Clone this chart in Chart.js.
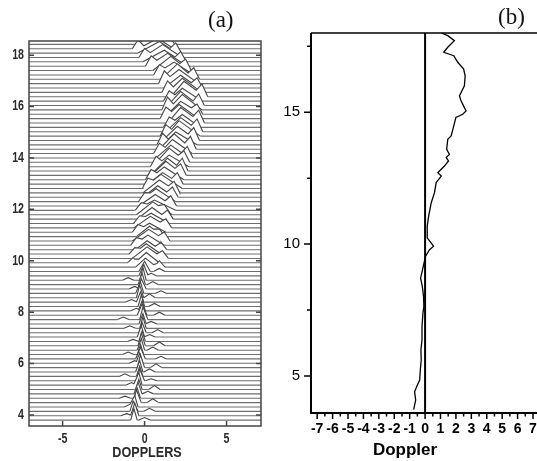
<!DOCTYPE html>
<html>
<head>
<meta charset="utf-8">
<script src="https://cdn.jsdelivr.net/npm/chart.js@4.4.1/dist/chart.umd.min.js"></script>
<style>
  html, body { margin: 0; padding: 0; background: #fff; overflow: hidden; }
  body { width: 537px; height: 461px; position: relative; }
  #boxA { position: absolute; left: 0; top: 0; width: 270px; height: 461px; }
  #boxB { position: absolute; left: 262px; top: 0; width: 283px; height: 461px; }
  .tag { position: absolute; font-family: "Liberation Serif", serif; font-size: 23px; color: #111; }
</style>
</head>
<body>
<div id="boxA"><canvas id="chartA"></canvas></div>
<div id="boxB"><canvas id="chartB"></canvas></div>
<div class="tag" style="left:208px; top:7px;">(a)</div>
<div class="tag" style="left:498px; top:4px;">(b)</div>
<script>
// (a) stacked spectra: one trace per range gate (km)
const gateHeight = [3.80, 3.97, 4.14, 4.31, 4.48, 4.65, 4.82, 4.99, 5.16, 5.33,
  5.50, 5.67, 5.84, 6.01, 6.18, 6.35, 6.52, 6.69, 6.86, 7.03,
  7.20, 7.37, 7.54, 7.71, 7.88, 8.05, 8.22, 8.39, 8.56, 8.73,
  8.90, 9.07, 9.24, 9.41, 9.58, 9.75, 9.92, 10.09, 10.26, 10.43,
  10.60, 10.77, 10.94, 11.11, 11.28, 11.45, 11.62, 11.79, 11.96, 12.13,
  12.30, 12.47, 12.64, 12.81, 12.98, 13.15, 13.32, 13.49, 13.66, 13.83,
  14.00, 14.17, 14.34, 14.51, 14.68, 14.85, 15.02, 15.19, 15.36, 15.53,
  15.70, 15.87, 16.04, 16.21, 16.38, 16.55, 16.72, 16.89, 17.06, 17.23,
  17.40, 17.57, 17.74, 17.91, 18.08, 18.25, 18.42];
// main spectral peak: doppler, height above baseline (km of stack), width left / right
const peakDoppler = [-0.65, -0.6, -0.7, -0.6, -0.5, -0.45, -0.4, -0.35, -0.35, -0.3,
  -0.3, -0.3, -0.25, -0.3, -0.25, -0.25, -0.2, -0.2, -0.15, -0.2,
  -0.15, -0.1, -0.1, -0.1, -0.15, -0.15, -0.2, -0.25, -0.3, -0.25,
  -0.2, -0.15, -0.1, -0.05, 0.0, 0.05, 0.1, 0.15, 0.1, 0.15,
  0.2, 0.25, 0.3, 0.3, 0.35, 0.4, 0.45, 0.5, 0.6, 0.65,
  0.7, 0.8, 0.9, 1.0, 1.1, 1.2, 1.3, 1.4, 1.5, 1.5,
  1.6, 1.7, 1.8, 1.9, 2.0, 2.1, 2.2, 2.3, 2.2, 2.1,
  2.2, 2.3, 2.2, 2.3, 2.4, 2.3, 2.2, 2.1, 2.0, 1.8,
  1.6, 1.4, 1.2, 1.1, 0.9, 0.8, 0.6];
const peakAmp = [0.45, 0.5, 0.4, 0.45, 0.5, 0.4, 0.45, 0.4, 0.5, 0.45,
  0.4, 0.45, 0.5, 0.4, 0.45, 0.4, 0.45, 0.5, 0.4, 0.45,
  0.4, 0.45, 0.4, 0.5, 0.45, 0.4, 0.45, 0.4, 0.5, 0.45,
  0.4, 0.45, 0.5, 0.45, 0.4, 0.35, 0.4, 0.45, 0.4, 0.35,
  0.4, 0.45, 0.4, 0.35, 0.45, 0.4, 0.45, 0.5, 0.4, 0.45,
  0.5, 0.45, 0.5, 0.55, 0.45, 0.5, 0.55, 0.5, 0.45, 0.55,
  0.5, 0.55, 0.6, 0.5, 0.55, 0.6, 0.55, 0.5, 0.6, 0.55,
  0.5, 0.6, 0.55, 0.5, 0.6, 0.55, 0.5, 0.55, 0.6, 0.5,
  0.55, 0.5, 0.45, 0.5, 0.45, 0.4, 0.45];
const spreadLeft = [0.2, 0.25, 0.2, 0.3, 0.2, 0.2, 0.25, 0.2, 0.3, 0.2,
  0.2, 0.25, 0.2, 0.2, 0.3, 0.2, 0.25, 0.2, 0.2, 0.25,
  0.2, 0.2, 0.25, 0.2, 0.3, 0.2, 0.2, 0.25, 0.2, 0.3,
  0.2, 0.25, 0.2, 0.3, 0.35, 0.6, 0.7, 0.9, 0.8, 0.7,
  0.9, 1.0, 0.8, 0.9, 1.0, 1.1, 0.9, 1.0, 1.2, 1.0,
  1.1, 0.9, 1.0, 1.1, 0.9, 1.0, 0.9, 0.8, 0.9, 0.8,
  0.9, 0.8, 0.9, 0.8, 0.9, 0.8, 0.9, 1.0, 0.8, 0.9,
  0.8, 0.9, 0.8, 0.9, 0.8, 0.9, 1.0, 1.1, 1.0, 1.2,
  1.1, 1.2, 1.3, 1.2, 1.3, 1.2, 1.1];
const spreadRight = [0.2, 0.25, 0.3, 0.2, 0.3, 0.2, 0.25, 0.2, 0.2, 0.3,
  0.2, 0.2, 0.25, 0.2, 0.3, 0.2, 0.2, 0.25, 0.2, 0.2,
  0.25, 0.2, 0.2, 0.3, 0.3, 0.2, 0.2, 0.2, 0.25, 0.2,
  0.3, 0.2, 0.2, 0.25, 0.35, 0.7, 0.8, 1.0, 0.9, 0.8,
  1.0, 1.1, 0.9, 1.0, 1.2, 1.1, 1.0, 1.2, 1.3, 1.1,
  1.2, 1.0, 1.2, 1.3, 1.1, 1.2, 1.1, 1.0, 1.2, 1.1,
  1.1, 1.2, 1.1, 1.3, 1.2, 1.3, 1.2, 1.1, 1.3, 1.2,
  1.3, 1.2, 1.1, 1.2, 1.3, 1.2, 1.1, 1.2, 1.1, 1.2,
  1.1, 1.2, 1.1, 1.2, 1.1, 1.0, 1.1];
// secondary bump of each spectrum: doppler and height
const sideDoppler = [0.0, -1.1, 0.3, -0.9, 0.5, -1.2, 0.2, 0.6, -0.8, 0.4,
  -1.2, 0.3, 0.7, -0.6, 1.0, -1.0, 0.5, 0.9, -0.7, 0.3,
  0.8, -0.9, 0.4, -1.3, 0.9, -0.5, 0.6, -0.8, 0.3, 1.0,
  -0.6, 0.5, -1.0, 0.4, 0.9, 0.9, -0.7, 1.1, -0.6, 1.0,
  -0.5, 1.2, 0.9, -0.4, 1.3, -0.3, 1.4, 1.2, -0.2, 1.6,
  0.0, 1.7, 1.8, 0.2, 2.0, 0.4, 2.2, 2.3, 0.7, 2.4,
  2.6, 0.9, 2.8, 1.1, 3.0, 1.3, 3.2, 1.5, 3.3, 1.3,
  3.2, 1.4, 3.3, 1.5, 3.5, 1.4, 3.2, 1.2, 3.0, 0.9,
  2.5, 0.4, 2.2, 0.0, 1.9, -0.4, 1.5];
const sideAmp = [0.1, 0.08, 0.12, 0.1, 0.15, 0.08, 0.1, 0.15, 0.1, 0.08,
  0.1, 0.12, 0.15, 0.1, 0.1, 0.1, 0.12, 0.15, 0.08, 0.1,
  0.12, 0.1, 0.1, 0.1, 0.12, 0.1, 0.12, 0.1, 0.15, 0.1,
  0.1, 0.12, 0.1, 0.1, 0.12, 0.25, 0.2, 0.3, 0.25, 0.3,
  0.3, 0.35, 0.3, 0.3, 0.35, 0.3, 0.35, 0.4, 0.3, 0.4,
  0.35, 0.4, 0.45, 0.4, 0.45, 0.4, 0.45, 0.5, 0.4, 0.45,
  0.45, 0.4, 0.5, 0.45, 0.5, 0.45, 0.5, 0.4, 0.5, 0.45,
  0.4, 0.5, 0.45, 0.4, 0.5, 0.45, 0.4, 0.5, 0.45, 0.4,
  0.45, 0.4, 0.4, 0.35, 0.4, 0.35, 0.3];
const xTicksA = [-5, 0, 5];
const yTicksA = [4, 6, 8, 10, 12, 14, 16, 18];

// (b) mean doppler profile
const profileHeight = [18.0, 17.9, 17.71, 17.46, 17.27, 17.14, 16.89, 16.63, 16.38, 16.0,
  15.62, 15.43, 15.05, 14.92, 14.8, 14.48, 14.1, 13.97, 13.59, 13.4,
  13.28, 13.15, 12.96, 12.71, 12.58, 12.33, 11.95, 11.57, 11.06, 10.68,
  10.24, 9.92, 9.79, 9.54, 9.1, 8.71, 8.4, 8.02, 7.63, 7.38,
  6.87, 6.37, 5.99, 5.61, 5.23, 4.85, 4.57, 4.4, 4.09, 3.73];
const profileDoppler = [1.05, 1.47, 1.9, 1.47, 1.21, 1.86, 2.12, 2.5, 2.6, 2.55,
  2.23, 2.33, 2.66, 2.44, 2.0, 1.86, 1.69, 1.47, 1.4, 1.58,
  1.37, 1.52, 1.26, 0.83, 1.05, 0.72, 0.61, 0.4, 0.23, 0.14,
  0.14, 0.55, 0.29, 0.03, -0.14, -0.29, -0.18, -0.1, -0.08, -0.14,
  -0.2, -0.2, -0.27, -0.25, -0.31, -0.35, -0.57, -0.68, -0.61, -0.74];
const xTicksB = [-7, -6, -5, -4, -3, -2, -1, 0, 1, 2, 3, 4, 5, 6, 7];
const yTicksB = [5, 7.5, 10, 12.5, 15, 17.5];

const xMinA = -7.05, xMaxA = 7.1, yMinA = 3.57, yMaxA = 18.55;
const xMinB = -7.4, xMaxB = 7.4, yMinB = 3.6, yMaxB = 18;
const sideHalfWidth = 0.35;

const arial = 'Liberation Sans, Arial, sans-serif';

function tri(x, l, p, r, a) {
  if (x <= l || x >= r) return 0;
  return x < p ? a * (x - l) / (p - l) : a * (r - x) / (r - p);
}

// each trace: flat baseline with its spectrum, filled white so it hides the traces above
const datasetsA = gateHeight.map((h, i) => {
  const p = peakDoppler[i], s = sideDoppler[i];
  const l1 = p - spreadLeft[i], r1 = p + spreadRight[i];
  const l2 = s - sideHalfWidth, r2 = s + sideHalfWidth;
  const xs = [l1, p, r1, l2, s, r2].sort((a, b) => a - b);
  const pts = [{ x: xMinA, y: h }];
  xs.forEach(x => {
    pts.push({ x, y: h + Math.max(tri(x, l1, p, r1, peakAmp[i]), tri(x, l2, s, r2, sideAmp[i])) });
  });
  pts.push({ x: xMaxA, y: h });
  return {
    data: pts,
    borderColor: '#6e6e6e',
    segment: {
      borderColor: c => (c.p0.parsed.y === h && c.p1.parsed.y === h) ? '#6e6e6e' : '#454545'
    },
    borderWidth: 1.1,
    pointRadius: 0,
    tension: 0,
    fill: { value: h },
    backgroundColor: '#ffffff'
  };
});

function narrowText(ctx, text, x, y, scaleX, align) {
  ctx.save();
  ctx.translate(x, y);
  ctx.scale(scaleX, 1);
  ctx.textAlign = align;
  ctx.textBaseline = 'middle';
  ctx.fillText(text, 0, 0);
  ctx.restore();
}

const frameA = {
  id: 'frameA',
  afterDraw(chart) {
    const { ctx, chartArea: a, scales: { x, y } } = chart;
    ctx.save();
    ctx.strokeStyle = '#444';
    ctx.lineWidth = 1.5;
    ctx.strokeRect(a.left, a.top, a.right - a.left, a.bottom - a.top);
    ctx.beginPath();
    yTicksA.forEach(v => {
      const py = y.getPixelForValue(v);
      ctx.moveTo(a.left, py); ctx.lineTo(a.left + 5, py);
      ctx.moveTo(a.right - 5, py); ctx.lineTo(a.right, py);
    });
    xTicksA.forEach(v => {
      const px = x.getPixelForValue(v);
      ctx.moveTo(px, a.bottom); ctx.lineTo(px, a.bottom - 5);
    });
    ctx.stroke();
    // condensed bold labels
    ctx.fillStyle = '#2a2a2a';
    ctx.font = 'bold 14px ' + arial;
    yTicksA.forEach(v => narrowText(ctx, String(v), a.left - 5, y.getPixelForValue(v), 0.76, 'right'));
    xTicksA.forEach(v => narrowText(ctx, String(v), x.getPixelForValue(v), a.bottom + 13, 0.76, 'center'));
    ctx.font = 'bold 15px ' + arial;
    narrowText(ctx, 'DOPPLERS', (a.left + a.right) / 2 + 2, a.bottom + 27, 0.84, 'center');
    ctx.restore();
  }
};

new Chart(document.getElementById('chartA'), {
  type: 'line',
  data: { datasets: datasetsA },
  options: {
    responsive: true,
    maintainAspectRatio: false,
    animation: false,
    layout: { padding: { top: 41, right: 9, left: 0, bottom: 0 } },
    plugins: { legend: { display: false }, tooltip: { enabled: false } },
    scales: {
      x: {
        type: 'linear', min: xMinA, max: xMaxA,
        grid: { display: false, drawTicks: false }, border: { display: false },
        afterBuildTicks: s => { s.ticks = xTicksA.map(v => ({ value: v })); },
        afterFit: s => { s.height = 35; },
        ticks: { display: false }
      },
      y: {
        type: 'linear', min: yMinA, max: yMaxA,
        grid: { display: false, drawTicks: false }, border: { display: false },
        afterBuildTicks: s => { s.ticks = yTicksA.map(v => ({ value: v })); },
        afterFit: s => { s.width = 29; },
        ticks: { display: false }
      }
    }
  },
  plugins: [frameA]
});

const frameB = {
  id: 'frameB',
  afterDraw(chart) {
    const { ctx, chartArea: a, scales: { x, y } } = chart;
    ctx.save();
    ctx.strokeStyle = '#000';
    ctx.lineWidth = 1.5;
    ctx.beginPath();
    ctx.moveTo(a.left, a.top); ctx.lineTo(a.right, a.top);
    ctx.stroke();
    ctx.lineWidth = 2;
    ctx.beginPath();
    ctx.moveTo(a.left, a.top); ctx.lineTo(a.left, a.bottom); ctx.lineTo(a.right, a.bottom);
    ctx.stroke();
    ctx.lineWidth = 1.5;
    ctx.beginPath();
    yTicksB.forEach(v => {
      const py = y.getPixelForValue(v);
      const len = Number.isInteger(v) ? 7 : 4;
      ctx.moveTo(a.left, py); ctx.lineTo(a.left - len, py);
    });
    xTicksB.forEach(v => {
      const px = x.getPixelForValue(v);
      ctx.moveTo(px, a.bottom); ctx.lineTo(px, a.bottom + 6);
      const ph = x.getPixelForValue(v + 0.5);
      if (v < 7) { ctx.moveTo(ph, a.bottom); ctx.lineTo(ph, a.bottom + 3.5); }
    });
    ctx.stroke();
    ctx.fillStyle = '#000';
    ctx.font = 'bold 17px ' + arial;
    ctx.textAlign = 'center';
    ctx.textBaseline = 'alphabetic';
    ctx.fillText('Doppler', x.getPixelForValue(-1.3), 455);
    ctx.restore();
  }
};

new Chart(document.getElementById('chartB'), {
  type: 'line',
  data: {
    datasets: [
      {
        data: profileDoppler.map((d, i) => ({ x: d, y: profileHeight[i] })),
        borderColor: '#000', borderWidth: 1.3, pointRadius: 0, tension: 0, fill: false
      },
      {
        data: [{ x: 0, y: yMinB }, { x: 0, y: yMaxB }],
        borderColor: '#000', borderWidth: 2, pointRadius: 0, fill: false
      }
    ]
  },
  options: {
    responsive: true,
    maintainAspectRatio: false,
    animation: false,
    layout: { padding: { top: 33, right: 4, left: 0, bottom: 0 } },
    plugins: { legend: { display: false }, tooltip: { enabled: false } },
    scales: {
      x: {
        type: 'linear', min: xMinB, max: xMaxB,
        grid: { display: false, drawTicks: false }, border: { display: false },
        afterBuildTicks: s => { s.ticks = xTicksB.map(v => ({ value: v })); },
        afterFit: s => { s.height = 48; },
        ticks: { autoSkip: false, maxRotation: 0, font: { family: arial, weight: 'bold', size: 14 }, color: '#000', padding: 8 }
      },
      y: {
        type: 'linear', min: yMinB, max: yMaxB,
        grid: { display: false, drawTicks: false }, border: { display: false },
        afterBuildTicks: s => { s.ticks = yTicksB.map(v => ({ value: v })); },
        afterFit: s => { s.width = 49; },
        ticks: { font: { family: arial, size: 15 }, color: '#000', padding: 11,
          callback: v => Number.isInteger(v) ? v : '' }
      }
    }
  },
  plugins: [frameB]
});
</script>
</body>
</html>
